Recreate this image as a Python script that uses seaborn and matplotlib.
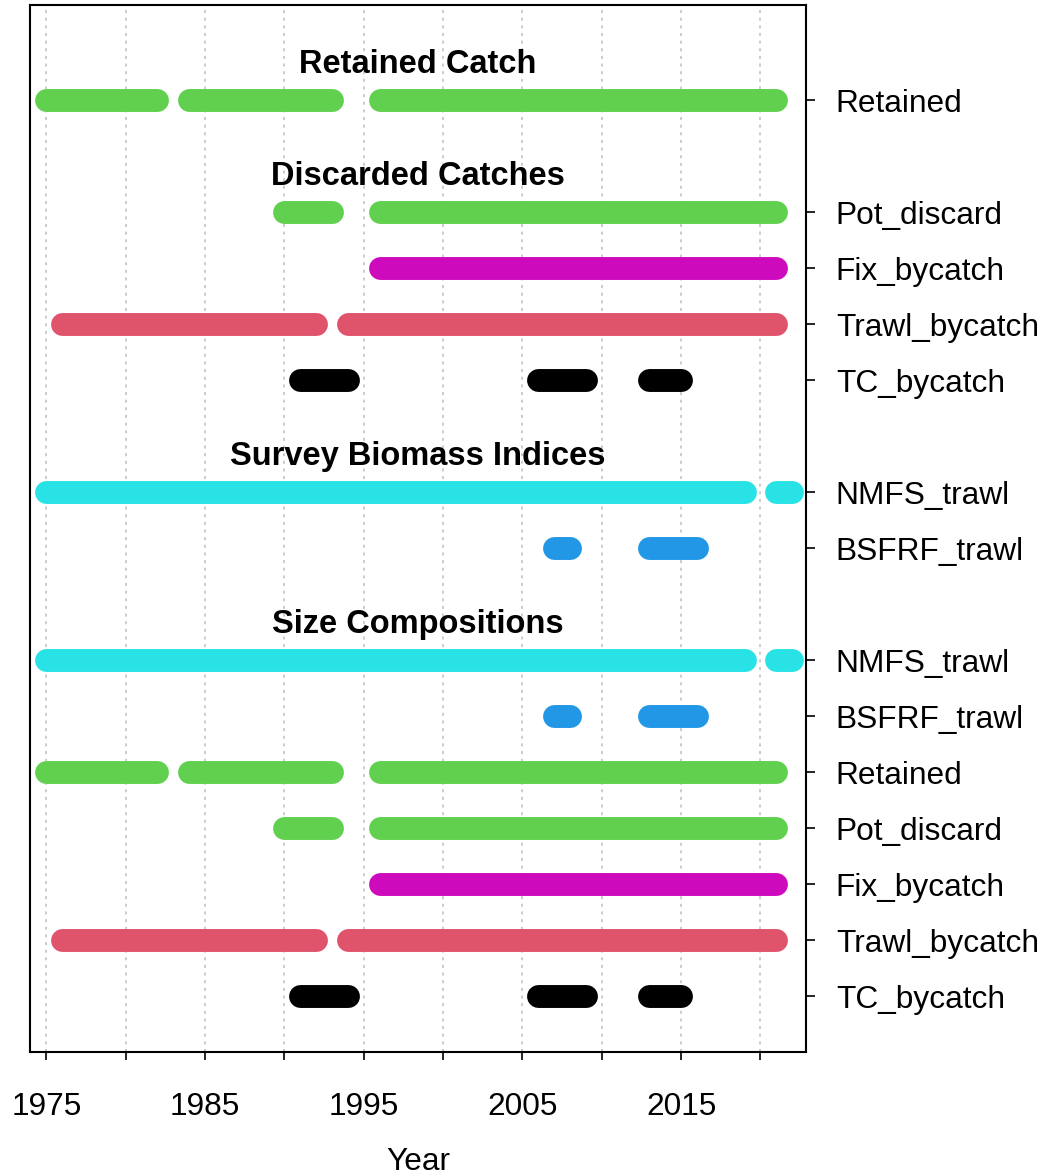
import pandas as pd
import seaborn as sns
import matplotlib.pyplot as plt

## setting y parametros
sns.set_theme(style="white")
plt.rcParams['font.family'] = ['Liberation Sans', 'DejaVu Sans']

## datos: segmentos de anios con datos (inicio, fin) por fila
row_labels = ['Retained',
              'Pot_discard', 'Fix_bycatch', 'Trawl_bycatch', 'TC_bycatch',
              'NMFS_trawl', 'BSFRF_trawl',
              'NMFS_trawl', 'BSFRF_trawl', 'Retained', 'Pot_discard',
              'Fix_bycatch', 'Trawl_bycatch', 'TC_bycatch']
row_pos = [17, 15, 14, 13, 12, 10, 9, 7, 6, 5, 4, 3, 2, 1]

retained = [(1975, 1982), (1984, 1993), (1996, 2021)]
pot_discard = [(1990, 1993), (1996, 2021)]
fix_bycatch = [(1996, 2021)]
trawl_bycatch = [(1976, 1992), (1994, 2021)]
tc_bycatch = [(1991, 1994), (2006, 2009), (2013, 2015)]
nmfs_trawl = [(1975, 2019), (2021, 2022)]
bsfrf_trawl = [(2007, 2008), (2013, 2016)]

series = {'Retained': retained, 'Pot_discard': pot_discard,
          'Fix_bycatch': fix_bycatch, 'Trawl_bycatch': trawl_bycatch,
          'TC_bycatch': tc_bycatch, 'NMFS_trawl': nmfs_trawl,
          'BSFRF_trawl': bsfrf_trawl}
colores = {'Retained': '#61D04F', 'Pot_discard': '#61D04F',
           'Fix_bycatch': '#CD0BBC', 'Trawl_bycatch': '#DF536B',
           'TC_bycatch': '#000000', 'NMFS_trawl': '#28E2E5',
           'BSFRF_trawl': '#2297E6'}

titulos = ['Retained Catch', 'Discarded Catches', 'Survey Biomass Indices', 'Size Compositions']
titulos_pos = [17, 15, 10, 7]

x_ticks = [1975, 1980, 1985, 1990, 1995, 2000, 2005, 2010, 2015, 2020]
x_ticklabels = ['1975', '', '1985', '', '1995', '', '2005', '', '2015', '']

## armo tabla larga
filas = []
seg_id = 0
for lab, y in zip(row_labels, row_pos):
    for ini, fin in series[lab]:
        filas.append({'year': ini, 'ypos': y, 'serie': lab, 'seg': seg_id})
        filas.append({'year': fin, 'ypos': y, 'serie': lab, 'seg': seg_id})
        seg_id = seg_id + 1
df = pd.DataFrame(filas)

fig = plt.figure(figsize=(10.53, 11.76), dpi=100)
ax = fig.add_axes([30/1053, 1 - 1052/1176, (806 - 30)/1053, (1052 - 5)/1176])

sns.lineplot(data=df, x='year', y='ypos', hue='serie', units='seg', estimator=None,
             palette=colores, legend=False, linewidth=16.5, solid_capstyle='round',
             sort=False, ax=ax, zorder=3)

for t, y in zip(titulos, titulos_pos):
    ax.text(0.5, y + 0.48, t, transform=ax.get_yaxis_transform(), ha='center',
            va='baseline', fontsize=23.5, fontweight='bold', color='black')

ax.set_xlim(1973.97, 2022.87)
ax.set_ylim(0.0, 18.7)
ax.set_xticks(x_ticks)
ax.set_xticklabels(x_ticklabels)
ax.set_yticks(row_pos)
ax.set_yticklabels(row_labels)
ax.yaxis.tick_right()
ax.tick_params(axis='x', direction='out', length=6, width=1.2, pad=23,
               labelsize=22.8, colors='black', bottom=True)
ax.tick_params(axis='y', direction='out', length=6.5, width=1.2, pad=15,
               labelsize=22.8, colors='black', right=True, left=False)
ax.grid(axis='x', color='#BEBEBE', linestyle=(0, (2, 3)), linewidth=1.1)
ax.grid(axis='y', visible=False)
ax.set_axisbelow(True)
for s in ax.spines.values():
    s.set_visible(True)
    s.set_color('black')
    s.set_linewidth(1.5)
ax.set_ylabel('')
ax.set_xlabel('Year', fontsize=22.8, labelpad=18, color='black')

fig.savefig('out.png', dpi=100, facecolor='white')
